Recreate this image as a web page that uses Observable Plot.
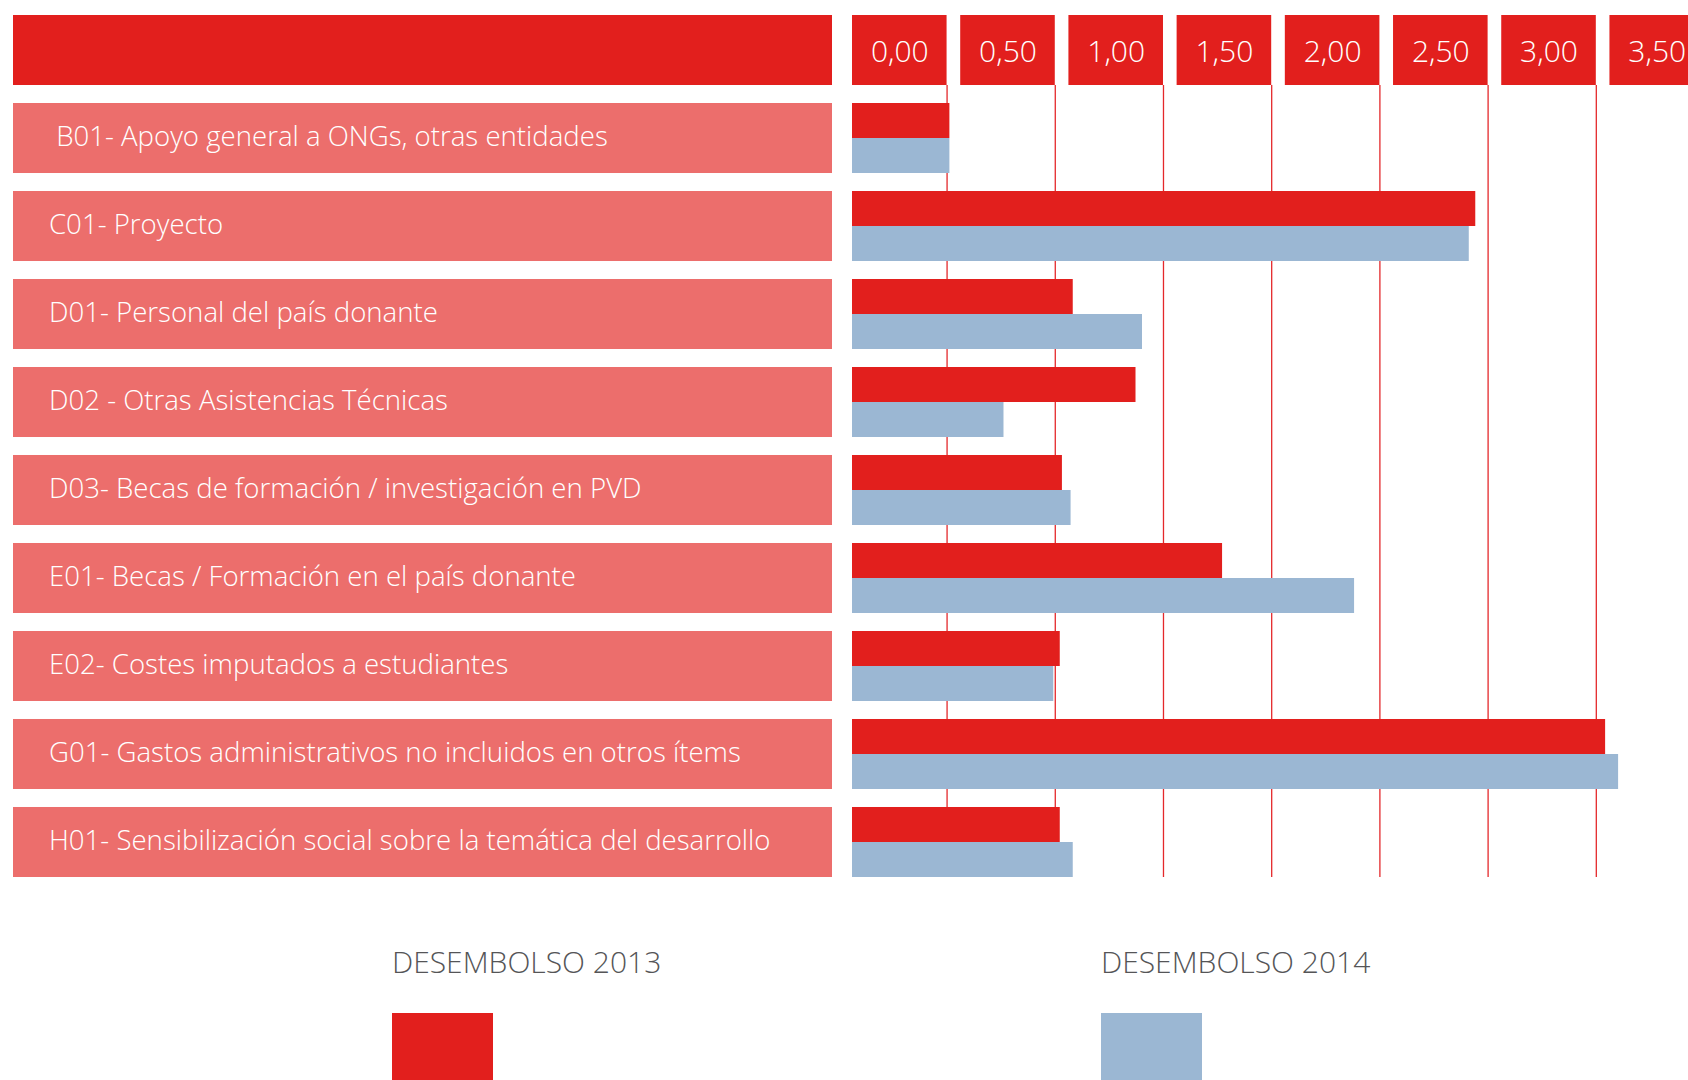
<!DOCTYPE html>
<html>
<head>
<meta charset="utf-8">
<script src="https://cdn.jsdelivr.net/npm/d3@7"></script>
<script src="https://cdn.jsdelivr.net/npm/@observablehq/plot@0.6"></script>
<style>
  html, body { margin: 0; padding: 0; background: #fff; overflow: hidden; }
  #wrap { position: relative; width: 1688px; height: 1080px; overflow: hidden; font-family: "Open Sans", sans-serif; }
  #charts { display: flex; flex-direction: row; }
  .legend-item { position: absolute; top: 941px; }
  .legend-text { font-family: "Open Sans", sans-serif; font-weight: 300; font-size: 30px; color: #555557; white-space: nowrap; line-height: normal; }
  .legend-swatch { position: absolute; top: 72px; left: 0; width: 101px; height: 80px; }
</style>
</head>
<body>
<div id="wrap">
  <div id="charts"></div>
  <div id="legend"></div>
</div>
<script>
// ---- data ----
const categories = [
  "\u00a0B01- Apoyo general a ONGs, otras entidades",
  "C01- Proyecto",
  "D01- Personal del país donante",
  "D02 - Otras Asistencias Técnicas",
  "D03- Becas de formación / investigación en PVD",
  "E01- Becas / Formación en el país donante",
  "E02- Costes imputados a estudiantes",
  "G01- Gastos administrativos no incluidos en otros ítems",
  "H01- Sensibilización social sobre la temática del desarrollo"
];
const desembolso2013 = [0.45, 2.88, 1.02, 1.31, 0.97, 1.71, 0.96, 3.48, 0.96];
const desembolso2014 = [0.45, 2.85, 1.34, 0.70, 1.01, 2.32, 0.93, 3.54, 1.02];
const tickValues = [0, 0.5, 1, 1.5, 2, 2.5, 3, 3.5];
const tickLabels = ["0,00", "0,50", "1,00", "1,50", "2,00", "2,50", "3,00", "3,50"];
const seriesNames = ["DESEMBOLSO 2013", "DESEMBOLSO 2014"];

// ---- styling ----
const RED = "#e21f1d";
const PINK = "#ec6e6c";
const BLUE = "#9bb7d3";
const GRID = "#e4282b";
const HEADER = "__header__";
const FONT = "Open Sans";

const rows = categories.map((c, i) => ({cat: c, v2013: desembolso2013[i], v2014: desembolso2014[i]}));
const ticks = tickValues.map((v, i) => ({v, label: tickLabels[i]}));

const H = 900, MT = 15, MB = 23;
const rowH = 70;
const yOpts = {domain: [HEADER, ...categories], axis: null, paddingInner: 0.2045, paddingOuter: 0, round: false};
const boxW = 0.437; // width of each tick label box, in value units

const left = Plot.plot({
  width: 845, height: H, marginLeft: 13, marginRight: 13, marginTop: MT, marginBottom: MB,
  x: {domain: [0, 1], axis: null},
  y: yOpts,
  marks: [
    Plot.barX([HEADER], {x1: 0, x2: 1, y: d => d, fill: RED}),
    Plot.barX(categories, {x1: 0, x2: 1, y: d => d, fill: PINK}),
    Plot.text(categories, {x: 0, y: d => d, text: d => d, textAnchor: "start", dx: 35.5, dy: -1,
      fill: "white", fontSize: 27.6, fontFamily: FONT, fontWeight: 300})
  ]
});

const right = Plot.plot({
  width: 843, height: H, marginLeft: 7, marginRight: 0, marginTop: MT, marginBottom: MB,
  x: {domain: [0, 3.863], axis: null},
  y: yOpts,
  marks: [
    Plot.ruleX(ticks, {x: d => d.v + boxW, stroke: GRID, strokeWidth: 1.3, insetTop: rowH}),
    Plot.barX(rows, {x: "v2013", y: "cat", fill: RED, insetBottom: rowH / 2}),
    Plot.barX(rows, {x: "v2014", y: "cat", fill: BLUE, insetTop: rowH / 2}),
    Plot.barX(ticks, {x1: d => d.v, x2: d => d.v + boxW, y: () => HEADER, fill: RED}),
    Plot.text(ticks, {x: d => d.v + boxW / 2, y: () => HEADER, text: "label", dy: 1.5,
      fill: "white", fontSize: 30, fontFamily: FONT, fontWeight: 300})
  ]
});

document.getElementById("charts").append(left, right);

// ---- legend ----
const legend = document.getElementById("legend");
const legendX = [392, 1101];
const legendColors = [RED, BLUE];
seriesNames.forEach((name, i) => {
  const item = document.createElement("div");
  item.className = "legend-item";
  item.style.left = legendX[i] + "px";
  const t = document.createElement("div");
  t.className = "legend-text";
  t.textContent = name;
  const s = document.createElement("div");
  s.className = "legend-swatch";
  s.style.background = legendColors[i];
  item.append(t, s);
  legend.append(item);
});
</script>
</body>
</html>
